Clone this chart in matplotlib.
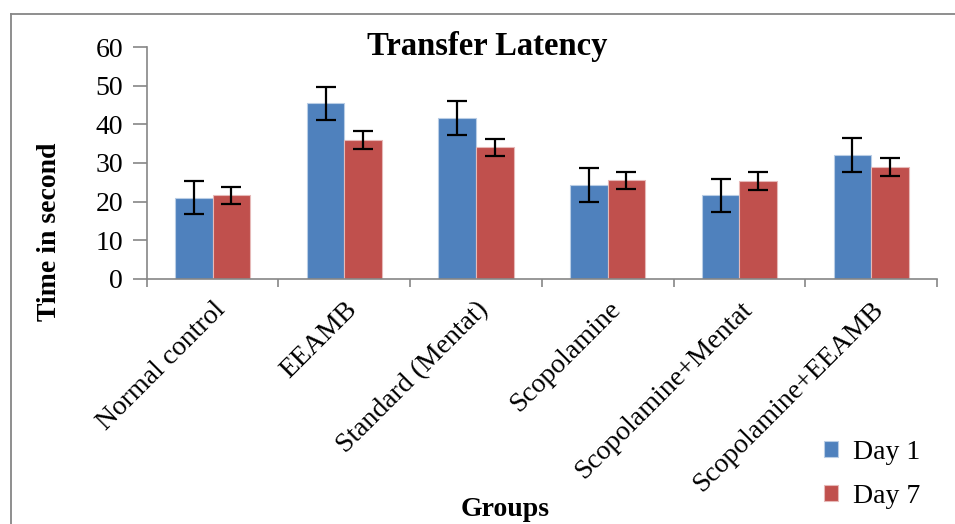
import matplotlib
matplotlib.use("Agg")
import matplotlib.pyplot as plt
import numpy as np
from matplotlib.lines import Line2D

categories = ["Normal control", "EEAMB", "Standard (Mentat)", "Scopolamine",
              "Scopolamine+Mentat", "Scopolamine+EEAMB"]
day1 = [21.0, 45.4, 41.6, 24.4, 21.6, 32.0]
day1_err = [4.3, 4.3, 4.4, 4.4, 4.3, 4.4]
day7 = [21.6, 35.9, 34.1, 25.5, 25.3, 29.0]
day7_err = [2.3, 2.3, 2.2, 2.3, 2.3, 2.3]
yticks = [0, 10, 20, 30, 40, 50, 60]

plt.rcParams['font.family'] = ['Liberation Serif', 'DejaVu Serif']

W, H = 955, 524
fig = plt.figure(figsize=(W / 100, H / 100), dpi=100)
ax = fig.add_axes([146.7 / W, 1 - 279 / H, (937 - 146.7) / W, (279 - 47) / H])

x = np.arange(len(categories))
bw = 0.285
blue = '#4F81BD'
red = '#C0504D'
ax.bar(x - bw / 2, day1, bw, color=blue, edgecolor='#B9CDE5', linewidth=0.8,
       label='Day 1', zorder=2)
ax.bar(x + bw / 2, day7, bw, color=red, edgecolor='#E6B9B8', linewidth=0.8,
       label='Day 7', zorder=2)
ax.errorbar(x - bw / 2, day1, yerr=day1_err, fmt='none', ecolor='black',
            elinewidth=1.6, capsize=7, capthick=1.6, zorder=3)
ax.errorbar(x + bw / 2, day7, yerr=day7_err, fmt='none', ecolor='black',
            elinewidth=1.6, capsize=7, capthick=1.6, zorder=3)

ax.set_xlim(-0.5, len(categories) - 0.5)
ax.set_ylim(0, 60)
ax.set_yticks(yticks)
ax.set_yticklabels([str(t) for t in yticks], fontsize=20)
ax.tick_params(axis='y', direction='out', length=10, width=1.2, color='#868686', pad=7)

# category boundaries as x ticks
ax.set_xticks(np.arange(-0.5, len(categories) + 0.5, 1.0), minor=False)
ax.set_xticklabels([])
ax.tick_params(axis='x', which='major', direction='out', length=6, width=1.2,
               color='#868686')
ax.set_xticks(x, minor=True)
ax.set_xticklabels(categories, minor=True, rotation=45, ha='right',
                   rotation_mode='anchor', fontsize=20)
ax.tick_params(axis='x', which='minor', length=0, pad=13)
for lbl in ax.get_xticklabels(minor=True):
    lbl.set_x(lbl.get_position()[0])

for s in ['top', 'right']:
    ax.spines[s].set_visible(False)
for s in ['left', 'bottom']:
    ax.spines[s].set_color('#868686')
    ax.spines[s].set_linewidth(1.2)

fig.text(487.5 / W, 1 - 47 / H, 'Transfer Latency', ha='center', va='center',
         fontsize=23.5, fontweight='bold')
fig.text(50 / W, 1 - 232 / H, 'Time in second', ha='center', va='center',
         rotation=90, fontsize=20, fontweight='bold')
fig.text(505 / W, 1 - 510 / H, 'Groups', ha='center', va='center',
         fontsize=20, fontweight='bold')

leg = fig.legend(loc='upper left', bbox_to_anchor=(813 / W, 1 - 429 / H),
                 frameon=False, fontsize=20, handlelength=0.5, handleheight=0.5,
                 handletextpad=0.55, labelspacing=0.68, borderaxespad=0)

fig.add_artist(Line2D([10.5 / W, 10.5 / W], [-0.1, 1 - 14 / H],
                      transform=fig.transFigure, color='#868686', linewidth=1.3))
fig.add_artist(Line2D([10.5 / W, 1.1], [1 - 14 / H, 1 - 14 / H],
                      transform=fig.transFigure, color='#868686', linewidth=1.3))

fig.savefig('out.png', dpi=100)
